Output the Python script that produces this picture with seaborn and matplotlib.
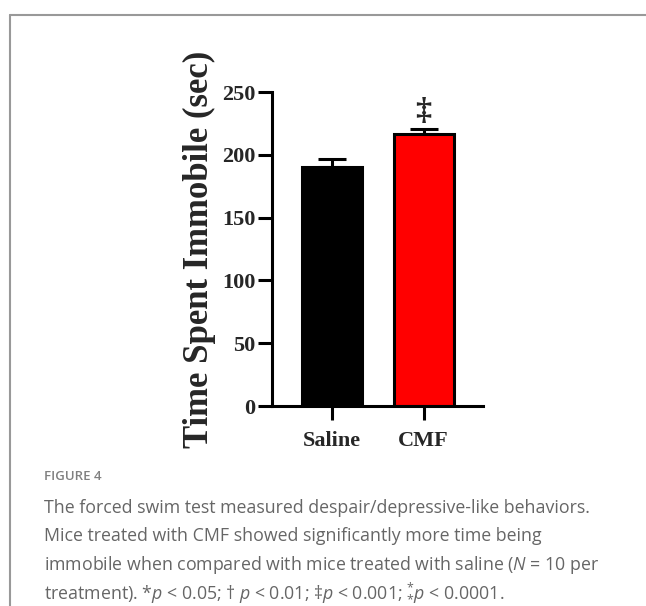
import matplotlib
matplotlib.use("Agg")
import matplotlib.pyplot as plt
from matplotlib.lines import Line2D
import seaborn as sns
import pandas as pd

sns.set_style("white")
plt.rcParams['font.family'] = ['Liberation Serif', 'DejaVu Serif']
plt.rcParams['mathtext.fontset'] = 'custom'
plt.rcParams['mathtext.rm'] = 'Open Sans'
plt.rcParams['mathtext.it'] = 'Open Sans:italic'

# data
groups = ["Saline", "CMF"]
means = [190, 217]
sems = [7, 4]
bar_colors = ["#000000", "#ff0000"]
marks = ["", "\u2021"]

yticks = [0, 50, 100, 150, 200, 250]
ylabel = "Time Spent Immobile (sec)"
fig_label = "FIGURE 4"
caption_lines = [
    "The forced swim test measured despair/depressive-like behaviors.",
    "Mice treated with CMF showed significantly more time being",
    "immobile when compared with mice treated with saline ($N$ = 10 per",
    "treatment). *$p$ < 0.05; \u2020 $p$ < 0.01; \u2021$p$ < 0.001; ${}^{*}_{*}p$ < 0.0001.",
]

df = pd.DataFrame({"group": groups, "mean": means, "sem": sems})

fig = plt.figure(figsize=(6.46, 6.06), dpi=100)
ax = fig.add_axes([0.421, 0.330, 0.327, 0.518])

sns.barplot(data=df, x="group", y="mean", hue="group", palette=bar_colors,
            order=groups, hue_order=groups, legend=False, errorbar=None,
            saturation=1, width=0.656, edgecolor="black", linewidth=2.2,
            ax=ax, zorder=2)

xs = [p.get_x() + p.get_width() / 2 for p in ax.patches]
ax.errorbar(xs, df["mean"], yerr=[[0] * len(sems), df["sem"]], fmt="none",
            ecolor="black", elinewidth=2.2, capsize=10, capthick=2.2, zorder=1)

for x, m, s, t in zip(xs, means, sems, marks):
    if t:
        ax.text(x, m + s + 2, t, ha="center", va="bottom", fontsize=23,
                fontweight="bold", family=["Liberation Serif", "DejaVu Serif"])

ax.set_xlim(-0.656, 1.65)
ax.set_ylim(0, 250)
ax.set_yticks(yticks)
ax.set_xlabel("")
ax.set_ylabel(ylabel, fontsize=25, fontweight="bold", labelpad=4)
sns.despine(ax=ax)
for sp in ["left", "bottom"]:
    ax.spines[sp].set_linewidth(2.2)
    ax.spines[sp].set_color("black")
ax.spines["left"].set_bounds(0, 250)
ax.tick_params(axis="both", direction="out", length=10, width=2.2, color="black",
               labelsize=16, left=True, bottom=True, pad=2)
ax.tick_params(axis="x", pad=8)
for lab in ax.get_xticklabels() + ax.get_yticklabels():
    lab.set_fontweight("bold")

# frame lines around the figure panel
fig.add_artist(Line2D([0.015, 0.015], [0.0, 0.975], color="#999999", lw=1.5))
fig.add_artist(Line2D([0.015, 1.0], [0.975, 0.975], color="#999999", lw=1.5))

fig.text(44 / 646, 1 - 477 / 606, fig_label, fontsize=9.5, color="#808080",
         family=["Open Sans", "DejaVu Sans"], fontweight="semibold", va="center")
for i, line in enumerate(caption_lines):
    fig.text(44 / 646, 1 - (508 + 28.3 * i) / 606, line, fontsize=12.8,
             color="#666666", family=["Open Sans", "DejaVu Sans"], va="center")

fig.savefig("out.png", dpi=100)
